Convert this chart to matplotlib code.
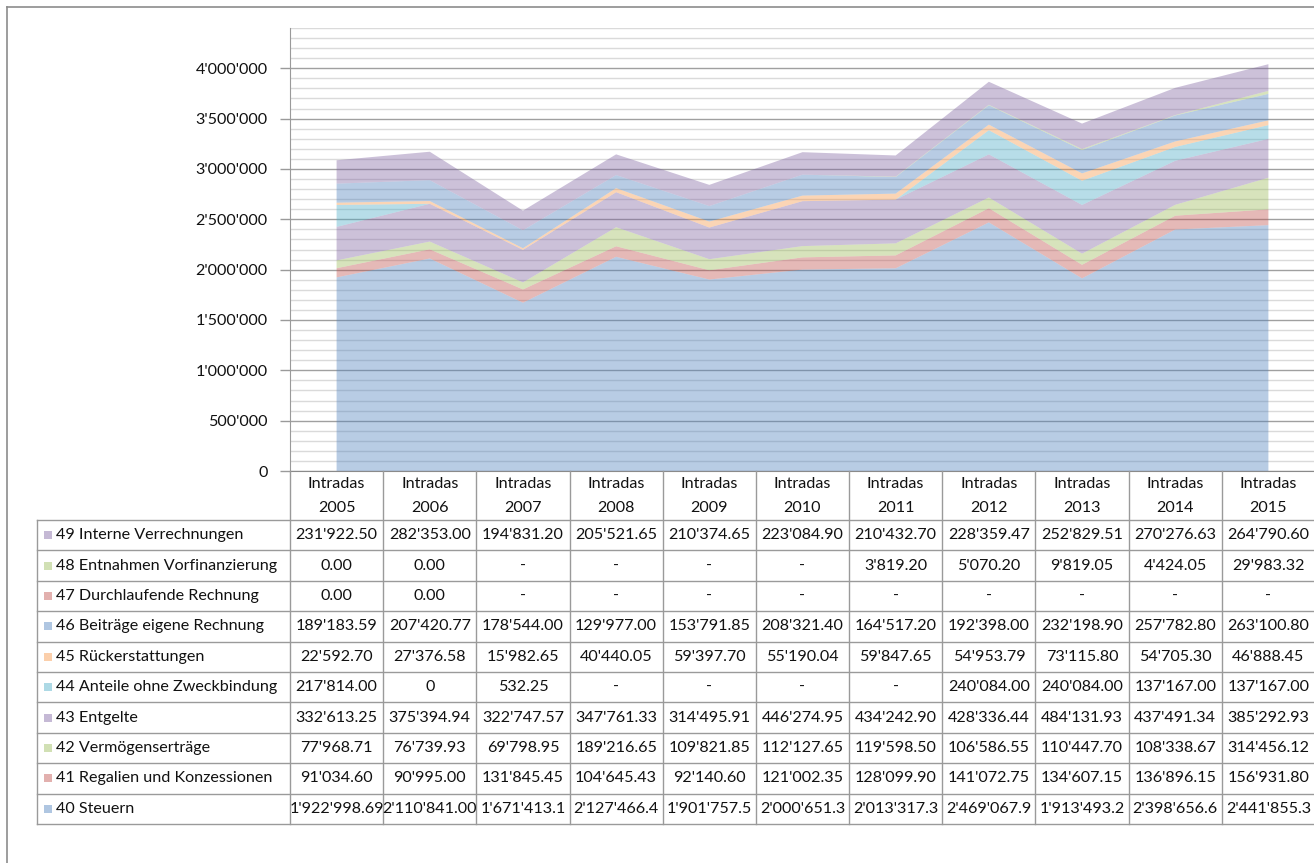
"""Stacked area chart of Intradas 2005-2015 with an Excel style data table."""

import matplotlib

matplotlib.use("Agg")
import matplotlib.pyplot as plt
import numpy as np
from matplotlib.ticker import FuncFormatter, MultipleLocator

W, H = 1314, 863

categories = [f"Intradas\n{y}" for y in range(2005, 2016)]

# one list per account, None = "-" in the table
s40 = [1922998.69, 2110841.00, 1671413.1, 2127466.4, 1901757.5, 2000651.3,
       2013317.3, 2469067.9, 1913493.2, 2398656.6, 2441855.3]
s41 = [91034.60, 90995.00, 131845.45, 104645.43, 92140.60, 121002.35,
       128099.90, 141072.75, 134607.15, 136896.15, 156931.80]
s42 = [77968.71, 76739.93, 69798.95, 189216.65, 109821.85, 112127.65,
       119598.50, 106586.55, 110447.70, 108338.67, 314456.12]
s43 = [332613.25, 375394.94, 322747.57, 347761.33, 314495.91, 446274.95,
       434242.90, 428336.44, 484131.93, 437491.34, 385292.93]
s44 = [217814.00, 0, 532.25, None, None, None, None,
       240084.00, 240084.00, 137167.00, 137167.00]
s45 = [22592.70, 27376.58, 15982.65, 40440.05, 59397.70, 55190.04,
       59847.65, 54953.79, 73115.80, 54705.30, 46888.45]
s46 = [189183.59, 207420.77, 178544.00, 129977.00, 153791.85, 208321.40,
       164517.20, 192398.00, 232198.90, 257782.80, 263100.80]
s47 = [0.00, 0.00, None, None, None, None, None, None, None, None, None]
s48 = [0.00, 0.00, None, None, None, None, 3819.20, 5070.20, 9819.05,
       4424.05, 29983.32]
s49 = [231922.50, 282353.00, 194831.20, 205521.65, 210374.65, 223084.90,
       210432.70, 228359.47, 252829.51, 270276.63, 264790.60]

# decimals shown for Steuern (column too narrow from 2007 on)
s40_decimals = [2, 2, 1, 1, 1, 1, 1, 1, 1, 1, 1]

labels = [
    "40 Steuern",
    "41 Regalien und Konzessionen",
    "42 Vermögenserträge",
    "43 Entgelte",
    "44 Anteile ohne Zweckbindung",
    "45 Rückerstattungen",
    "46 Beiträge eigene Rechnung",
    "47 Durchlaufende Rechnung",
    "48 Entnahmen Vorfinanzierung",
    "49 Interne Verrechnungen",
]
series = [s40, s41, s42, s43, s44, s45, s46, s47, s48, s49]

# Excel 2007 palette, repeated after six series
palette = ["#4F81BD", "#C0504D", "#9BBB59", "#8064A2", "#4BACC6", "#F79646"]
colors = [palette[i % 6] for i in range(len(series))]
ALPHA = 0.40

FONT = "Lato"
FS = 11.6
TXT = "#111111"
LINE = "#9a9a9a"


def fmt_cell(v, dec=2):
    if v is None:
        return "-"
    if isinstance(v, int):
        return str(v)
    return f"{v:,.{dec}f}".replace(",", "'")


def main() -> None:
    plt.rcParams["font.family"] = [FONT, "DejaVu Sans"]
    fig = plt.figure(figsize=(W / 100, H / 100), dpi=100)

    # chart area
    x0, x1, ytop, ybot = 290, 1315, 28, 471
    ax = fig.add_axes([x0 / W, (H - ybot) / H, (x1 - x0) / W, (ybot - ytop) / H])
    x = np.arange(len(categories))
    data = np.array([[0.0 if v is None else v for v in s] for s in series])
    ax.stackplot(x, data, colors=colors, alpha=ALPHA, linewidth=0, zorder=2)

    ax.set_xlim(-0.5, len(categories) - 0.5)
    ax.set_ylim(0, 4.4e6)
    ax.yaxis.set_major_locator(MultipleLocator(500000))
    ax.yaxis.set_minor_locator(MultipleLocator(100000))
    ax.yaxis.set_major_formatter(
        FuncFormatter(lambda v, _: f"{int(v):,}".replace(",", "'"))
    )
    ax.grid(True, axis="y", which="minor", color="#dadada", linewidth=1.0, zorder=0)
    ax.grid(True, axis="y", which="major", color="#a0a0a0", linewidth=1.0, zorder=0)
    ax.set_axisbelow(True)
    ax.set_xticks([])
    ax.tick_params(axis="y", which="major", length=7, width=1, color=LINE,
                   pad=9, labelsize=FS, labelcolor=TXT)
    ax.tick_params(axis="y", which="minor", length=0)
    for side in ("top", "right"):
        ax.spines[side].set_visible(False)
    ax.spines["left"].set_color(LINE)
    ax.spines["bottom"].set_color("#8a8a8a")

    # overlay in pixel coordinates for frame and data table
    ov = fig.add_axes([0, 0, 1, 1], zorder=5)
    ov.set_xlim(0, W)
    ov.set_ylim(H, 0)
    ov.axis("off")
    ov.patch.set_alpha(0)

    # outer chart frame (only top and left visible)
    ov.plot([7, W], [7, 7], color="#8c8c8c", lw=1.2)
    ov.plot([7, 7], [7, H], color="#8c8c8c", lw=1.2)

    col_w = (x1 - x0) / len(categories)
    row_top, row_h = 520, 30.4
    tab_left, tab_bot = 37, row_top + row_h * len(series)

    # header row
    for i, cat in enumerate(categories):
        cx = x0 + (i + 0.5) * col_w
        l1, l2 = cat.split("\n")
        ov.text(cx, 484, l1, ha="center", va="center", fontsize=FS, color=TXT)
        ov.text(cx, 507.5, l2, ha="center", va="center", fontsize=FS, color=TXT)
    for i in range(len(categories) + 1):
        xx = x0 + i * col_w
        ov.plot([xx, xx], [ybot, tab_bot], color=LINE, lw=1)
    for r in range(len(series) + 1):
        yy = row_top + r * row_h
        ov.plot([tab_left, W], [yy, yy], color=LINE, lw=1)
    ov.plot([tab_left, tab_left], [row_top, tab_bot], color=LINE, lw=1)

    # table body, top row = last series
    for r, k in enumerate(reversed(range(len(series)))):
        cy = row_top + (r + 0.5) * row_h
        ov.add_patch(plt.Rectangle((44, cy - 4), 8, 8, color=colors[k],
                                   alpha=ALPHA + 0.05, lw=0))
        ov.text(56, cy, labels[k], ha="left", va="center", fontsize=FS, color=TXT)
        for i, v in enumerate(series[k]):
            dec = s40_decimals[i] if k == 0 else 2
            ov.text(x0 + (i + 0.5) * col_w, cy, fmt_cell(v, dec), ha="center",
                    va="center", fontsize=FS, color=TXT)

    fig.savefig("out.png", dpi=100)
    plt.close(fig)


if __name__ == "__main__":
    main()
